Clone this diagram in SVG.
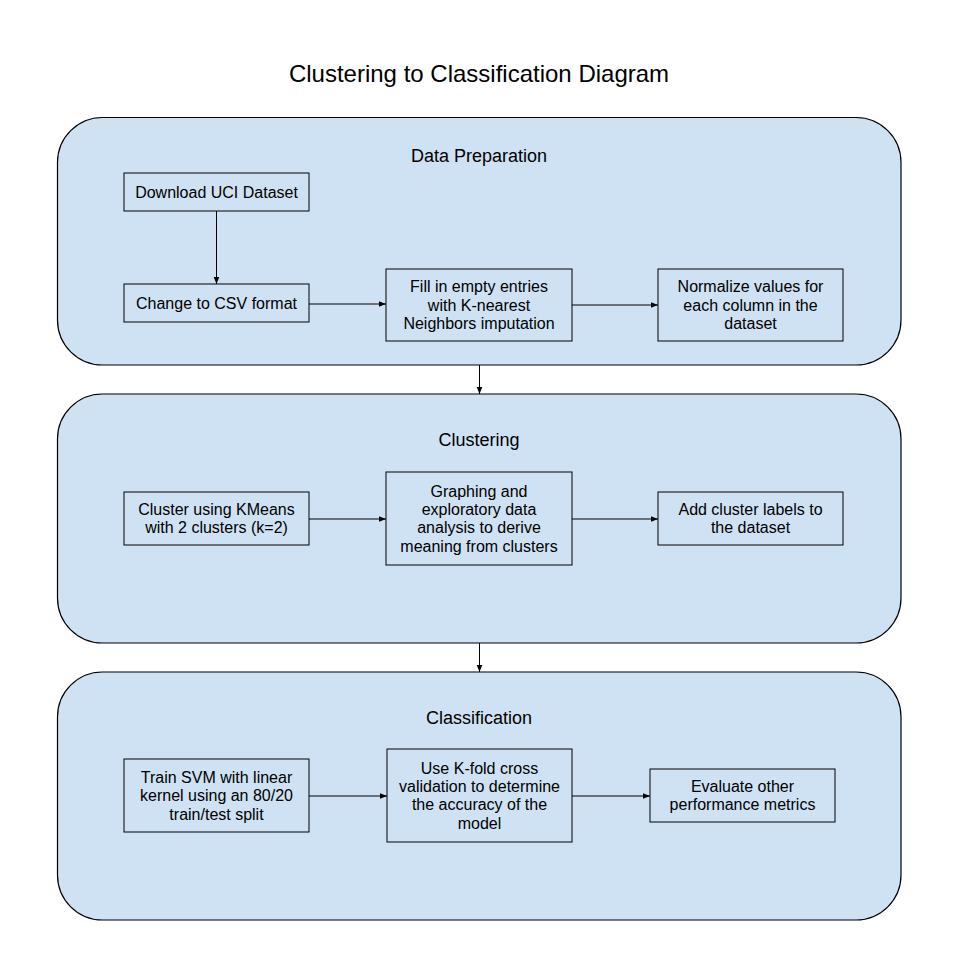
<svg xmlns="http://www.w3.org/2000/svg" width="960" height="966" viewBox="0 0 960 966">
<defs>
<style>
.panel{fill:#cfe2f3;stroke:#000;stroke-width:1.2}
.box{fill:#cfe2f3;stroke:#000;stroke-width:1}
.t{font-family:"Liberation Sans",Arial,sans-serif;font-size:16px;fill:#000;text-anchor:middle}
.h{font-family:"Liberation Sans",Arial,sans-serif;font-size:18px;fill:#000;text-anchor:middle}
.title{font-family:"Liberation Sans",Arial,sans-serif;font-size:24px;fill:#000;text-anchor:middle}
.c{stroke:#000;stroke-width:1;fill:none;marker-end:url(#ah)}
</style>
<marker id="ah" viewBox="0 0 10 10" refX="10" refY="5" markerWidth="7" markerHeight="7" markerUnits="userSpaceOnUse" orient="auto">
<path d="M0,1 L10,5 L0,9 z" fill="#000"/>
</marker>
</defs>
<rect width="960" height="966" fill="#fff"/>
<text class="title" x="479" y="82">Clustering to Classification Diagram</text>

<g id="panel-data-preparation">
<rect class="panel" x="57.5" y="117.5" width="843.5" height="247.5" rx="45" ry="45"/>
<text class="h" x="479" y="162">Data Preparation</text>
</g>
<g id="panel-clustering">
<rect class="panel" x="57.5" y="394" width="843.5" height="249" rx="45" ry="45"/>
<text class="h" x="479" y="446">Clustering</text>
</g>
<g id="panel-classification">
<rect class="panel" x="57.5" y="672" width="843.5" height="248" rx="45" ry="45"/>
<text class="h" x="479" y="724">Classification</text>
</g>

<g id="download">
<rect class="box" x="124" y="173" width="185" height="38"/>
<text class="t" x="216.5" y="197.7">Download UCI Dataset</text>
</g>
<g id="csv">
<rect class="box" x="124" y="284" width="185" height="38"/>
<text class="t" x="216.5" y="308.7">Change to CSV format</text>
</g>
<g id="fill">
<rect class="box" x="386" y="269" width="186" height="72"/>
<text class="t" x="479" y="292.3">Fill in empty entries</text>
<text class="t" x="479" y="310.7">with K-nearest</text>
<text class="t" x="479" y="329.1">Neighbors imputation</text>
</g>
<g id="normalize">
<rect class="box" x="658" y="269" width="185" height="72"/>
<text class="t" x="750.5" y="292.3">Normalize values for</text>
<text class="t" x="750.5" y="310.7">each column in the</text>
<text class="t" x="750.5" y="329.1">dataset</text>
</g>

<g id="kmeans">
<rect class="box" x="124" y="492" width="185" height="53"/>
<text class="t" x="216.5" y="515">Cluster using KMeans</text>
<text class="t" x="216.5" y="533.4">with 2 clusters (k=2)</text>
</g>
<g id="graphing">
<rect class="box" x="386" y="472" width="186" height="93"/>
<text class="t" x="479" y="496.6">Graphing and</text>
<text class="t" x="479" y="515">exploratory data</text>
<text class="t" x="479" y="533.4">analysis to derive</text>
<text class="t" x="479" y="551.8">meaning from clusters</text>
</g>
<g id="labels">
<rect class="box" x="658" y="492" width="185" height="53"/>
<text class="t" x="750.5" y="515">Add cluster labels to</text>
<text class="t" x="750.5" y="533.4">the dataset</text>
</g>

<g id="svm">
<rect class="box" x="124" y="759" width="185" height="73"/>
<text class="t" x="216.5" y="782.8">Train SVM with linear</text>
<text class="t" x="216.5" y="801.2">kernel using an 80/20</text>
<text class="t" x="216.5" y="819.6">train/test split</text>
</g>
<g id="kfold">
<rect class="box" x="387" y="749" width="185" height="93"/>
<text class="t" x="479.5" y="773.6">Use K-fold cross</text>
<text class="t" x="479.5" y="792">validation to determine</text>
<text class="t" x="479.5" y="810.4">the accuracy of the</text>
<text class="t" x="479.5" y="828.8">model</text>
</g>
<g id="evaluate">
<rect class="box" x="650" y="769" width="185" height="53"/>
<text class="t" x="742.5" y="792">Evaluate other</text>
<text class="t" x="742.5" y="810.4">performance metrics</text>
</g>

<g id="connectors">
<line class="c" x1="216.5" y1="211" x2="216.5" y2="284"/>
<line class="c" x1="309" y1="304" x2="386" y2="304"/>
<line class="c" x1="572" y1="305" x2="658" y2="305"/>
<line class="c" x1="479.5" y1="365" x2="479.5" y2="394"/>
<line class="c" x1="309" y1="519" x2="386" y2="519"/>
<line class="c" x1="572" y1="519" x2="658" y2="519"/>
<line class="c" x1="479.5" y1="643" x2="479.5" y2="672"/>
<line class="c" x1="309" y1="796" x2="387" y2="796"/>
<line class="c" x1="572" y1="796" x2="650" y2="796"/>
</g>
</svg>
